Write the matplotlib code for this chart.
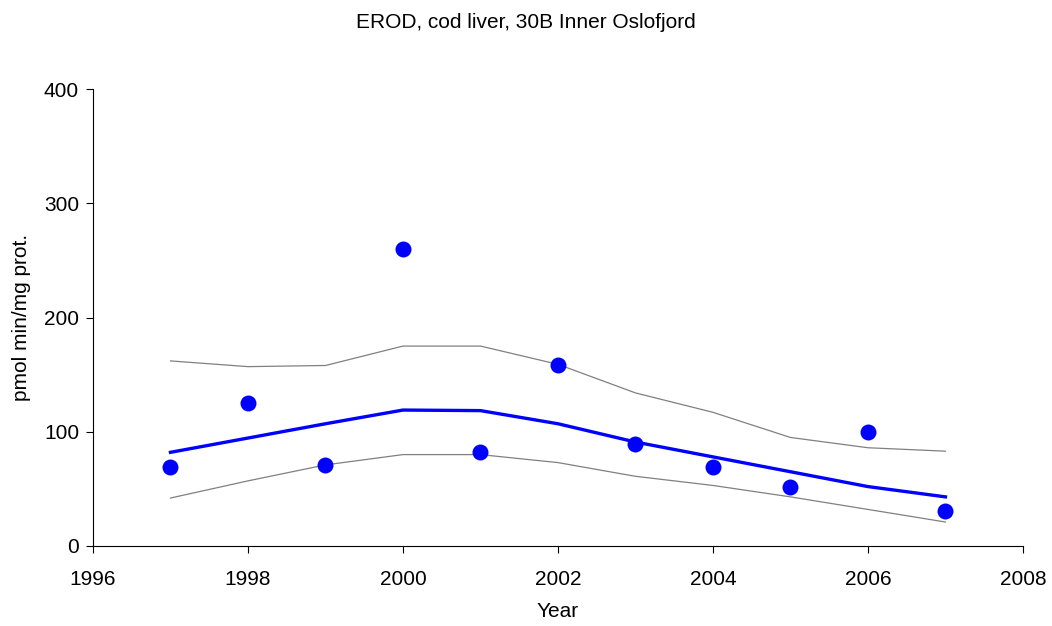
import matplotlib; matplotlib.use('Agg')
import numpy as np
from matplotlib import pyplot as plt

plt.rcParams.update({
    'font.family': ['Liberation Sans', 'DejaVu Sans'],
    'font.size': 15,
})

years = [1997, 1998, 1999, 2000, 2001, 2002, 2003, 2004, 2005, 2006, 2007]
observed = [69, 125, 71, 260, 82, 158, 89, 69, 52, 100, 31]
trend = [82, 94.5, 107, 119, 118.5, 107, 91, 78, 65, 52, 43]
upper = [162, 157, 158, 175, 175, 159, 134, 117, 95, 86, 83]
lower = [42, 57, 71, 80, 80, 73, 61, 53, 43, 32, 21]

fig = plt.figure(figsize=(10.52, 6.26), dpi=100)
ax = fig.add_axes([0.0884, 0.1278, 0.8840, 0.7300])

ax.plot(years, upper, color='#808080', lw=0.9, zorder=2)
ax.plot(years, lower, color='#808080', lw=0.9, zorder=2)
ax.plot(years, trend, color='#0000ff', lw=2.4, zorder=3)
ax.plot(years, observed, 'o', color='#0000ff', ms=11.5, mec='none', zorder=4)

ax.set_xlim(1996, 2008)
ax.set_ylim(0, 400)
ax.set_xticks(np.arange(1996, 2009, 2))
ax.set_yticks([0, 100, 200, 300, 400])

for s in ['top', 'right']:
    ax.spines[s].set_visible(False)
for s in ['left', 'bottom']:
    ax.spines[s].set_linewidth(0.8)
ax.tick_params(direction='out', length=5, width=0.8)
ax.tick_params(axis='x', pad=12)
ax.tick_params(axis='y', pad=5)

ax.set_xlabel('Year', labelpad=10)
ax.set_ylabel('pmol min/mg prot.', labelpad=9)
fig.suptitle('EROD, cod liver, 30B Inner Oslofjord', y=0.98, fontsize=15)

plt.savefig('out.png', dpi=100)
plt.close()
